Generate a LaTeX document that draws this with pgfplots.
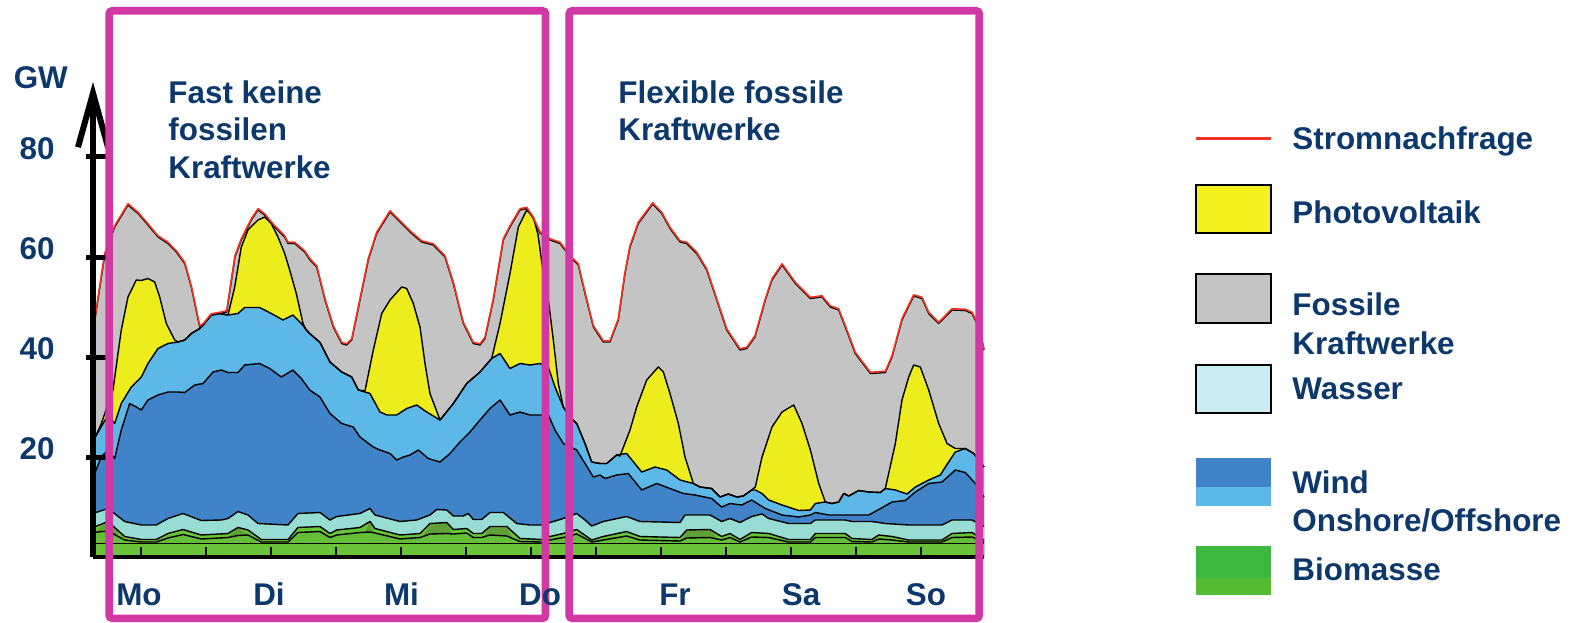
\documentclass[border=0pt]{standalone}
\usepackage{pgfplots}
\pgfplotsset{compat=1.18}
\usepackage{pgfplotstable}
\usepackage{fontspec}
\setmainfont{Liberation Sans}
\usetikzlibrary{arrows.meta}

\definecolor{navy}{RGB}{12,56,107}
\definecolor{mag}{RGB}{210,56,163}
\definecolor{fossil}{RGB}{196,196,196}
\definecolor{pv}{RGB}{237,237,30}
\definecolor{pvleg}{RGB}{245,240,32}
\definecolor{windoff}{RGB}{93,184,232}
\definecolor{windon}{RGB}{64,131,200}
\definecolor{hydro}{RGB}{152,221,211}
\definecolor{hydroleg}{RGB}{202,237,242}
\definecolor{bio}{RGB}{106,196,58}
\definecolor{biomid}{RGB}{100,190,58}
\definecolor{bioolive}{RGB}{96,160,58}
\definecolor{bioleg}{RGB}{61,183,62}
\definecolor{bioleg2}{RGB}{84,187,51}
\definecolor{demandred}{RGB}{240,50,30}

% hour of the week (Mo 0:00 = 0) vs. GW, upper edge of each stacked layer
\pgfplotstableread{
h gw
3.14 44
3.56 48
5.30 60.4
7.14 66
9.60 70.4
11.45 68.7
13.29 66.4
15.14 64
16.98 62.7
18.52 61
20.07 58.7
21.29 54
22.84 46
23.45 46.4
24.98 48.4
26.53 48.7
27.82 49
29.35 60
30.52 63.4
32.36 67.4
33.60 69.4
34.84 68.4
36.68 66
38.53 64
39.14 62.7
40.37 62.7
42.22 61
43.20 59.4
44.44 58
45.97 51.4
47.50 46
49.05 42.7
49.98 42.4
50.90 43.4
52.43 51.4
53.96 59.4
55.51 64.7
57.97 69
59.82 67
61.66 65
63.82 63
65.96 62.4
68.12 60
69.66 54.7
71.50 46.7
73.35 42.7
74.58 42.4
75.51 43.7
77.04 51.4
78.89 63.4
80.12 66
81.97 69.4
83.21 69.7
84.43 67.7
85.66 64.8
87.51 63.4
89.35 62.7
91.51 59.7
92.73 58.4
93.97 52.7
95.51 46
97.35 43
98.58 43
100.12 47.4
101.35 56.7
102.28 62
103.81 66.7
106.47 70.6
108.13 68.7
109.66 65.7
111.51 63
112.74 62.7
114.59 60.7
116.44 57.4
118.29 51.4
120.13 45.4
122.58 41.4
123.83 41.7
125.35 44
127.26 51.4
128.49 55.4
130.34 58.4
132.80 54.7
135.57 51.7
137.72 52
139.25 50
140.80 49.4
142.02 46
143.87 40.7
146.64 36.7
149.41 36.9
150.65 40
152.49 47.4
154.65 52.2
156.18 51.7
157.42 48.7
159.26 46.7
161.72 49.4
164.18 49.3
165.42 48.7
166.65 46
167.63 41.4
}\demand

\pgfplotstableread{
h gw
3.14 21
3.56 24
4.62 26.5
6.83 33.4
8.36 45.4
9.60 52
11.13 55.4
12.06 55.3
13.29 55.7
14.53 55
15.45 52
16.67 46.7
18.22 43.4
18.83 43
20.07 43.4
21.29 44.7
22.84 45.7
23.45 46.4
24.98 48.4
26.53 48.7
28.06 48.4
29.30 54
30.52 62
31.75 65.4
33.60 67.4
34.84 68
36.05 66.7
37.29 64
38.53 60.7
39.45 57.4
40.67 52.7
41.91 46.7
42.40 45.5
43.14 44.7
45.05 42.9
46.89 39
49.05 37
50.90 36
52.12 33.4
53.35 33.2
54.89 41.4
56.44 48.7
57.97 51.4
60.13 54
61.05 53.7
62.27 50.7
63.51 46
64.43 38.7
65.35 32.7
67.20 27.4
69.66 30.7
72.13 34.7
74.58 37
76.74 39.7
78.28 46.7
80.12 56.7
81.66 66
83.21 69.4
84.43 68
85.29 64.5
86.27 56.7
87.20 51.4
88.12 43.4
89.04 34.7
89.96 30
91.20 28
92.44 26.7
93.97 22.7
95.20 19
96.74 18.7
97.98 18.7
99.82 20.4
100.43 20.2
102.28 25.4
103.51 30
105.36 35.4
107.50 38
108.43 37
109.66 32.7
111.20 26.7
112.43 20
113.97 14.7
115.20 14
117.36 13.7
118.89 12
120.43 12.6
121.98 12
123.20 12.2
124.74 13.4
125.41 14
126.65 20
128.49 26
130.34 29
132.50 30.4
134.03 26.7
135.57 21.4
137.12 14.7
138.33 11
139.57 10.7
140.80 11
141.73 12.7
142.65 12.2
144.49 13.3
146.34 13
148.48 12.9
149.41 13.7
151.26 22.7
152.49 31.4
153.73 36
154.65 38.4
155.87 38
157.42 33.4
159.26 26.7
160.80 22.7
162.33 21.7
164.18 21.7
165.73 20.7
167.63 18
}\pvtop

\pgfplotstableread{
h gw
3.14 21
3.56 24
5.91 28.4
7.14 26.7
8.36 30.7
10.21 34
12.06 36
13.29 38.7
15.14 41.7
16.98 42.7
18.83 43
20.07 43.4
21.29 44.7
22.84 45.7
23.45 46.4
24.98 48.4
26.53 48.7
28.06 48.4
29.91 48.7
31.14 49.9
33.91 49.9
36.05 48.7
38.22 47.4
40.06 48.4
41.59 46.7
43.14 44.7
45.05 42.9
46.89 39
49.05 37
50.90 36
52.12 33.4
54.28 32.7
56.12 29
57.36 28.4
59.21 28.4
61.05 29.7
62.90 30.4
64.75 29
67.20 27.4
69.66 30.7
72.13 34.7
74.58 37
76.74 39.7
78.28 40.7
80.12 37.7
81.97 38.7
83.82 38.4
85.66 38.7
87.20 38
88.43 34
89.96 30
91.20 28
92.44 26.7
93.97 22.7
95.20 19
96.74 18.7
97.98 18.7
99.82 20.4
101.66 20.7
104.43 17
106.89 18
109.05 17.4
111.51 15.4
113.97 14.7
115.20 14
117.36 13.7
118.89 12
120.43 12.6
121.98 12
123.20 12.2
124.74 13.4
125.41 13.4
126.65 12.7
127.89 11.4
130.34 10.4
133.43 9.3
135.57 9.4
136.49 10.7
138.33 11
139.57 10.7
140.80 11
141.73 12.7
142.65 12.2
144.49 13.3
146.34 13
148.48 12.9
149.41 13.7
151.26 13.4
153.42 12.6
154.95 14
157.42 15.4
159.56 16.4
160.49 18
162.33 21
164.18 21.7
165.73 20.7
167.63 18
}\offtop

\pgfplotstableread{
h gw
3.14 15
3.56 17
4.67 20
5.91 21.4
7.14 19.7
8.36 25.4
9.91 30.7
11.13 30
12.06 29.4
13.29 31.4
15.14 32.4
16.98 33
18.83 33
20.07 32.9
21.91 34.4
23.45 34.7
25.29 37
26.82 37.4
28.06 36.9
29.91 36.9
31.14 38.4
33.91 38.7
35.76 37.7
37.90 36
40.06 37.4
41.59 35.7
43.14 33.4
45.05 32
46.89 28.7
49.05 26.7
51.19 26
52.43 24
54.89 22
56.12 21.4
57.97 20.7
59.21 19.4
60.43 20
61.66 20.4
63.20 21.4
65.04 19.7
67.20 19
69.05 20.7
70.89 23
72.74 25
74.58 27.4
76.43 29.7
78.28 31.4
80.12 28.4
81.97 29
83.82 28.4
87.20 28.4
88.43 25.4
89.96 22.7
92.44 21.4
93.97 18.7
95.51 16
96.74 16.4
97.66 15.7
99.82 16.4
101.96 16.7
104.43 13.4
107.21 14.7
109.66 13.7
112.12 12.7
114.28 12.4
117.36 11.7
119.20 10
120.74 10.7
122.90 10.4
124.74 11.4
127.26 9.7
130.34 8.4
133.43 8
135.57 8.4
136.49 8.9
138.96 8.4
146.34 8.4
148.19 9.5
150.65 11
153.10 11.3
154.95 13
157.42 14.7
159.88 15
162.33 17.4
164.18 16.9
166.02 14.7
167.63 12
}\ontop

\pgfplotstableread{
h gw
3.14 8.7
5.91 9.7
8.99 7.1
12.06 6.4
14.82 6.4
16.98 7.7
19.75 8.7
23.13 7.3
26.82 7.4
28.06 7.7
29.91 9.1
31.75 8.4
33.60 6.7
39.14 6.4
40.98 8.7
45.05 8.9
46.89 7.4
48.13 8.1
52.43 8.7
54.28 9.7
55.20 8.4
59.82 7.1
62.90 7.4
65.35 8.4
66.59 9.5
68.44 9.4
69.66 8.2
71.50 8.2
72.42 8.7
73.35 7.5
74.90 7.5
76.43 8.9
78.89 8.9
81.36 6.7
83.82 6.4
86.03 6.4
88.12 7.1
89.96 7.7
92.44 8.7
93.97 7.4
95.20 6.2
97.35 7.1
101.66 8.1
104.12 7.1
111.51 6.9
112.43 8.4
117.05 8.4
119.20 7.1
120.74 7.7
122.58 6.9
124.74 8.1
126.65 8.6
127.89 7.7
131.58 6.7
135.57 6.7
136.49 7.4
142.02 7.4
143.26 7.1
146.95 7.1
149.41 6.7
153.73 6.4
159.88 6.4
161.72 7.4
165.42 7.4
167.63 6.1
}\hydrotop

\pgfplotstableread{
h gw
3.14 5.9
5.91 7.1
8.99 4.1
12.06 3.5
14.82 3.5
16.98 4.7
19.75 5.5
23.13 4.4
28.06 4.7
29.91 5.9
31.75 5.4
34.21 3.5
39.14 3.5
40.98 5.9
45.05 6.1
46.89 4.7
48.13 5.4
52.43 5.9
54.28 7.1
55.20 5.7
59.82 4.4
63.51 4.7
65.35 6.7
68.44 6.9
69.66 5.5
72.13 5.7
73.35 4.7
74.90 4.7
76.43 6.1
79.52 6.1
81.97 3.7
86.03 3.5
87.51 4.1
89.96 4.7
92.44 5.5
95.20 3.4
97.35 4.1
101.66 5.1
104.12 4.1
111.51 3.9
112.74 5.4
117.05 5.5
119.20 4.1
120.74 4.7
122.58 3.5
124.74 4.9
127.89 4.7
131.58 3.5
135.57 3.5
136.49 4.7
142.02 4.7
143.26 3.7
146.95 3.5
148.19 4.4
150.65 4.1
153.73 3.4
159.88 3.4
161.72 4.7
165.42 4.9
167.63 3.4
}\biotop

\pgfplotstableread{
h gw
3.14 4.9
5.91 5.2
8.99 3.4
12.06 3.0
14.82 3.0
16.98 3.8
19.75 4.5
23.13 3.6
28.06 3.9
29.91 4.3
31.75 4.4
34.21 3.0
39.14 3.0
40.98 4.9
45.05 5.1
46.89 3.9
48.13 4.4
52.43 4.9
54.28 5.0
55.20 4.8
59.82 3.6
63.51 3.9
65.35 4.6
68.44 4.7
69.66 4.6
72.13 4.8
73.35 3.9
74.90 3.9
76.43 4.4
79.52 4.2
81.97 3.1
86.03 3.0
87.51 3.4
89.96 3.9
92.44 4.6
95.20 3.0
97.35 3.4
101.66 4.2
104.12 3.4
111.51 3.2
112.74 3.8
117.05 3.9
119.20 3.4
120.74 3.9
122.58 3.0
124.74 4.0
127.89 3.9
131.58 3.0
135.57 3.0
136.49 3.9
142.02 3.9
143.26 3.1
146.95 3.0
148.19 3.6
150.65 3.4
153.73 3.0
159.88 3.0
161.72 3.9
165.42 4.0
167.63 3.0
}\biomidtop

\pgfplotstableread{
h gw
3.14 2.7
167.63 2.7
}\biobase

\begin{document}
\begin{tikzpicture}[font=\fontsize{15.7pt}{18.8pt}\selectfont\bfseries]
\path[use as bounding box] (0,0) rectangle (786pt,311pt);
\begin{axis}[
  at={(46.5pt,32.5pt)}, anchor=south west,
  scale only axis, width=445.5pt, height=237.5pt,
  xmin=3.14, xmax=167.63, ymin=0, ymax=95,
  axis lines=left, axis on top, clip=false,
  x axis line style={-, line width=2pt},
  y axis line style={-{Straight Barb[length=27pt,width=15pt]}, line width=3pt},
  xtick=\empty, ytick=\empty,
  every axis plot/.append style={line join=round},
]
% filled layers, from the top of the stack downwards
\addplot[fill=fossil, draw=none] table[x=h,y=gw]{\demand} \closedcycle;
\addplot[fill=pv, draw=none] table[x=h,y=gw]{\pvtop} \closedcycle;
\addplot[fill=windoff, draw=none] table[x=h,y=gw]{\offtop} \closedcycle;
\addplot[fill=windon, draw=none] table[x=h,y=gw]{\ontop} \closedcycle;
\addplot[fill=hydro, draw=none] table[x=h,y=gw]{\hydrotop} \closedcycle;
\addplot[fill=bio, draw=none] table[x=h,y=gw]{\biotop} \closedcycle;
% darker biomass patches
\addplot[fill=bioolive, draw=none] coordinates {(4.06,5.5) (5.91,7.1) (7.75,5.0)} \closedcycle;
\addplot[fill=bioolive, draw=none] coordinates {(28.43,4.3) (29.91,5.9) (31.38,4.6)} \closedcycle;
\addplot[fill=bioolive, draw=none] coordinates {(53.35,5.0) (54.28,7.1) (55.02,5.0)} \closedcycle;
\addplot[fill=bioolive, draw=none] coordinates {(64.25,4.5) (65.35,6.7) (68.44,6.9) (69.42,4.7)} \closedcycle;
\addplot[fill=bioolive, draw=none] coordinates {(75.32,4.2) (76.43,6.1) (79.52,6.1) (80.49,4.0)} \closedcycle;
\addplot[fill=bioolive, draw=none] coordinates {(111.88,3.4) (112.74,5.4) (117.05,5.5) (118.15,3.8)} \closedcycle;
\addplot[fill=biomid, draw=none] table[x=h,y=gw]{\biomidtop} \closedcycle;
\addplot[fill=bio, draw=none] table[x=h,y=gw]{\biobase} \closedcycle;
% layer outlines
\addplot[black, line width=0.7pt] table[x=h,y=gw]{\biobase};
\addplot[black, line width=0.7pt] table[x=h,y=gw]{\biomidtop};
\addplot[black, line width=0.7pt] table[x=h,y=gw]{\biotop};
\addplot[black, line width=0.7pt] table[x=h,y=gw]{\hydrotop};
\addplot[black, line width=0.7pt] table[x=h,y=gw]{\ontop};
\addplot[black, line width=0.7pt] table[x=h,y=gw]{\offtop};
\addplot[black, line width=0.7pt] table[x=h,y=gw]{\pvtop};
\addplot[black, line width=0.7pt] table[x=h,y=gw]{\demand};
% electricity demand
\addplot[demandred, line width=0.8pt, yshift=0.6pt] table[x=h,y=gw]{\demand};
% half-day ticks on the time axis
\pgfplotsinvokeforeach{12,24,36,48,60,72,84,96,108,120,132,144,156}{
  \draw[black, line width=1pt] (axis cs:#1,0) -- ([yshift=5pt]axis cs:#1,0);
}
% y ticks and labels
\pgfplotsinvokeforeach{20,40,60,80}{
  \draw[black, line width=2.5pt] ([xshift=-3.5pt]axis cs:3.14,#1) -- ([xshift=6.5pt]axis cs:3.14,#1);
  \node[anchor=east, inner sep=0pt, text=navy, xshift=-19pt, yshift=4pt] at (axis cs:3.14,#1) {#1};
}
\end{axis}

% unit
\node[anchor=base west, inner sep=0pt, text=navy] at (6.7pt,266.85pt) {GW};

% highlighted periods
\draw[mag, line width=3.8pt, rounded corners=1.5pt] (54.6pt,1.85pt) rectangle (272.75pt,305.6pt);
\draw[mag, line width=3.8pt, rounded corners=1.5pt] (284.6pt,1.85pt) rectangle (489.6pt,305.6pt);
\node[anchor=base west, inner sep=0pt, text=navy] at (84pt,259.25pt) {Fast keine};
\node[anchor=base west, inner sep=0pt, text=navy] at (84pt,240.5pt) {fossilen};
\node[anchor=base west, inner sep=0pt, text=navy] at (84pt,221.75pt) {Kraftwerke};
\node[anchor=base west, inner sep=0pt, text=navy] at (309pt,259.25pt) {Flexible fossile};
\node[anchor=base west, inner sep=0pt, text=navy] at (309pt,240.5pt) {Kraftwerke};

% weekday labels
\node[anchor=base, inner sep=0pt, text=navy] at (69.5pt,8.5pt) {Mo};
\node[anchor=base, inner sep=0pt, text=navy] at (134.5pt,8.5pt) {Di};
\node[anchor=base, inner sep=0pt, text=navy] at (200.75pt,8.5pt) {Mi};
\node[anchor=base, inner sep=0pt, text=navy] at (270pt,8.5pt) {Do};
\node[anchor=base, inner sep=0pt, text=navy] at (337.5pt,8.5pt) {Fr};
\node[anchor=base, inner sep=0pt, text=navy] at (400.5pt,8.5pt) {Sa};
\node[anchor=base, inner sep=0pt, text=navy] at (463pt,8.5pt) {So};

% legend
\draw[demandred, line width=1.5pt] (598pt,241.5pt) -- (635.5pt,241.5pt);
\draw[black, line width=0.6pt, fill=pvleg] (598pt,194.5pt) rectangle (635.5pt,218.5pt);
\draw[black, line width=0.6pt, fill=fossil] (598pt,149.5pt) rectangle (635.5pt,174pt);
\draw[black, line width=0.6pt, fill=hydroleg] (598pt,104.5pt) rectangle (635.5pt,128.5pt);
\fill[windon] (598pt,67.5pt) rectangle (635.5pt,82pt);
\fill[windoff] (598pt,58pt) rectangle (635.5pt,67.5pt);
\fill[bioleg] (598pt,22pt) rectangle (635.5pt,38pt);
\fill[bioleg2] (598pt,13.5pt) rectangle (635.5pt,22pt);
\node[anchor=base west, inner sep=0pt, text=navy] at (646pt,236pt) {Stromnachfrage};
\node[anchor=base west, inner sep=0pt, text=navy] at (646pt,199pt) {Photovoltaik};
\node[anchor=base west, inner sep=0pt, text=navy] at (646pt,153.5pt) {Fossile};
\node[anchor=base west, inner sep=0pt, text=navy] at (646pt,134pt) {Kraftwerke};
\node[anchor=base west, inner sep=0pt, text=navy] at (646pt,111.3pt) {Wasser};
\node[anchor=base west, inner sep=0pt, text=navy] at (646pt,64.3pt) {Wind};
\node[anchor=base west, inner sep=0pt, text=navy] at (646pt,45.2pt) {Onshore/Offshore};
\node[anchor=base west, inner sep=0pt, text=navy] at (646pt,21pt) {Biomasse};
\end{tikzpicture}
\end{document}
